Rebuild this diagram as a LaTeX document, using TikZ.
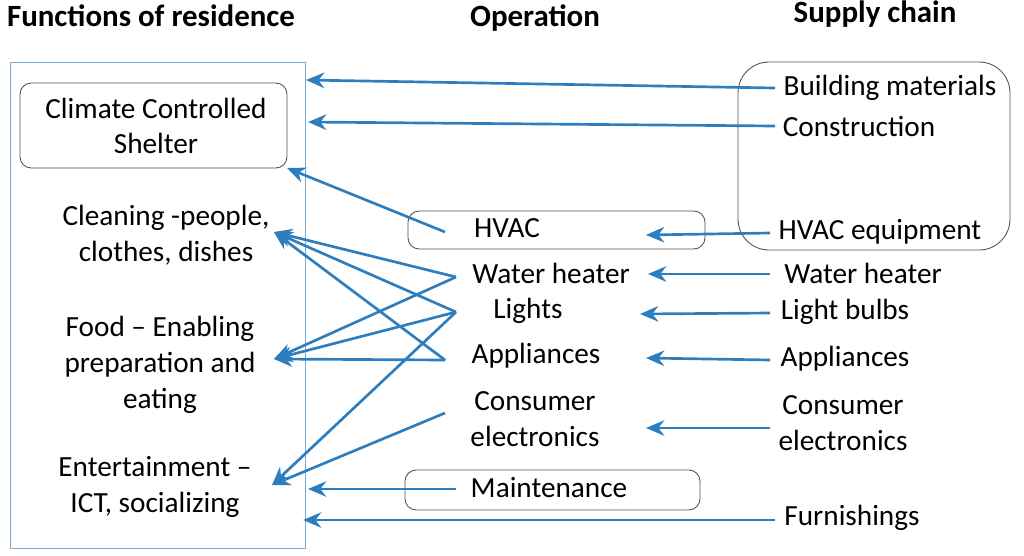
\documentclass[tikz,border=0pt]{standalone}
\usepackage{fontspec}
\setmainfont{Carlito}
\usetikzlibrary{arrows.meta}
\definecolor{arr}{RGB}{46,126,190}
\definecolor{frame}{RGB}{120,170,215}
\begin{document}
\begin{tikzpicture}[x=0.025cm,y=-0.025cm,
  t/.style={font=\fontsize{20.8}{25.5}\selectfont,align=center,inner sep=1pt},
  h/.style={font=\fontsize{22}{26}\selectfont\bfseries,inner sep=1pt},
  a/.style={draw=arr,line width=1.9pt,-{Stealth[length=13pt,width=11pt]}},
  rb/.style={draw=black!70,rounded corners=8pt,line width=0.6pt}]
\useasboundingbox (0,0) rectangle (1024,555);
\node[h] (h1) at (151,16) {Functions of residence};
\node[h] (h2) at (535,18) {Operation};
\node[h] (h3) at (875,14) {Supply chain};
\draw[frame,line width=0.6pt] (10,62) rectangle (305,548);
\draw[rb] (20,83) rectangle (287,168);
\draw[rb] (408,211) rectangle (705,249);
\draw[rb] (405,470) rectangle (700,510);
\draw[rb,rounded corners=22pt] (738,62) rectangle (1010,250);
% left
\node[t] (ccs) at (156,126) {Climate Controlled\\Shelter};
\node[t] (cl) at (166,235) {Cleaning -people,\\clothes, dishes};
\node[t] (fd) at (160,365) {Food – Enabling\\preparation and\\eating};
\node[t] (en) at (155,487) {Entertainment –\\ICT, socializing};
% middle
\node[t] (hv) at (507,228) {HVAC};
\node[t] (wh) at (551,273) {Water heater};
\node[t] (li) at (528,311) {Lights};
\node[t] (ap) at (536,356) {Appliances};
\node[t] (ce) at (535,419) {Consumer\\electronics};
\node[t] (ma) at (549,488) {Maintenance};
% right
\node[t] (bm) at (890,88) {Building materials};
\node[t] (co) at (859,126) {Construction};
\node[t] (he) at (880,232) {HVAC equipment};
\node[t] (wr) at (863,273) {Water heater};
\node[t] (lb) at (845,312) {Light bulbs};
\node[t] (ar) at (845,359) {Appliances};
\node[t] (cr) at (843,423) {Consumer\\electronics};
\node[t] (fu) at (852,518) {Furnishings};
% coordinates
\coordinate (bm0) at (775,88); \coordinate (bm1) at (306,80);
\coordinate (co0) at (775,126); \coordinate (co1) at (308,122);
\coordinate (he0) at (770,233); \coordinate (he1) at (646,235);
\coordinate (wr0) at (770,274); \coordinate (wr1) at (648,274);
\coordinate (lb0) at (770,313); \coordinate (lb1) at (640,314);
\coordinate (ar0) at (770,360); \coordinate (ar1) at (646,358);
\coordinate (cr0) at (770,428); \coordinate (cr1) at (646,428);
\coordinate (fu0) at (775,520); \coordinate (fu1) at (303,520);
\coordinate (hv0) at (445,232); \coordinate (ccs1) at (287,168);
\coordinate (wh0) at (456,277); \coordinate (li0) at (456,312);
\coordinate (ap0) at (445,360); \coordinate (ce0) at (445,413);
\coordinate (ma0) at (456,489); \coordinate (ma1) at (308,489);
\coordinate (cl1) at (274,232); \coordinate (fd1) at (274,359);
\coordinate (en1) at (272,485);
\draw[a] (bm0) -- (bm1);
\draw[a] (co0) -- (co1);
\draw[a] (he0) -- (he1);
\draw[a] (wr0) -- (wr1);
\draw[a] (lb0) -- (lb1);
\draw[a] (ar0) -- (ar1);
\draw[a] (cr0) -- (cr1);
\draw[a] (fu0) -- (fu1);
\draw[a] (hv0) -- (ccs1);
\draw[a] (wh0) -- (cl1);
\draw[a] (li0) -- (cl1);
\draw[a] (ap0) -- (cl1);
\draw[a] (wh0) -- (fd1);
\draw[a] (li0) -- (fd1);
\draw[a] (ap0) -- (fd1);
\draw[a] (li0) -- (en1);
\draw[a] (ce0) -- (en1);
\draw[a] (ma0) -- (ma1);
\end{tikzpicture}
\end{document}
